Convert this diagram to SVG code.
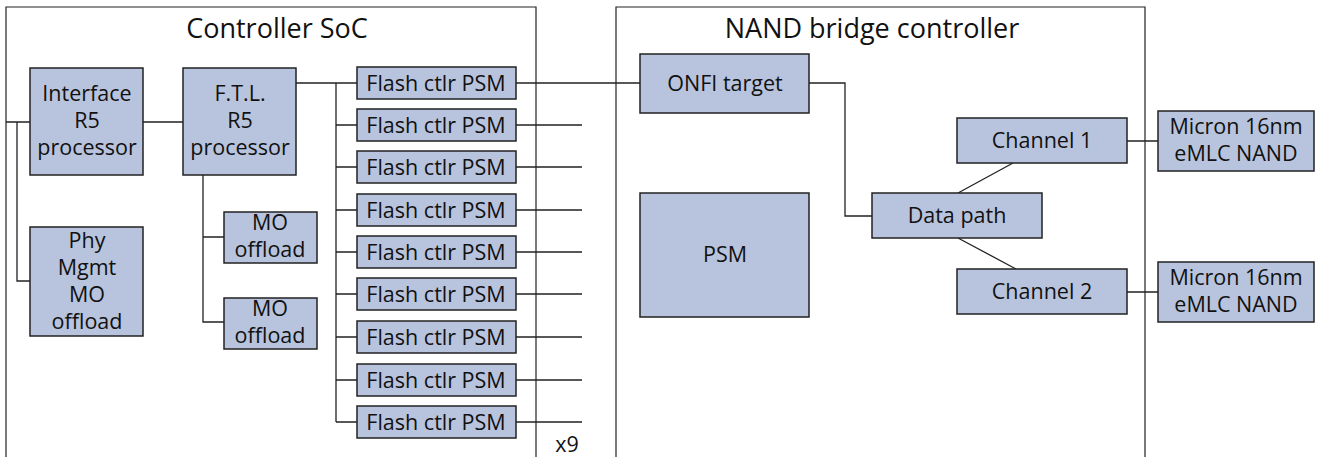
<svg xmlns="http://www.w3.org/2000/svg" width="1317" height="457" viewBox="0 0 1317 457">
<style>
.frame{fill:none;stroke:#222;stroke-width:1.2}
.box{fill:#b8c4dd;stroke:#222;stroke-width:1.5}
.t{font-family:"Open Sans","Noto Sans",sans-serif;font-size:21.5px;fill:#111;text-anchor:middle}
.title{font-family:"Open Sans","Noto Sans",sans-serif;font-size:27px;fill:#111;text-anchor:middle}
.c{fill:none;stroke:#222;stroke-width:1.3}
</style>
<rect width="1317" height="457" fill="#fff"/>
<g id="frame-soc"><path class="frame" d="M6,460 V7 H536 V460"/><text class="title" x="277" y="38">Controller SoC</text><text class="t" x="567" y="452">x9</text></g>
<g id="frame-bridge"><path class="frame" d="M616,460 V7 H1145 V460"/><text class="title" x="872" y="38">NAND bridge controller</text></g>
<g id="connectors">
<path class="c" d="M6,122 H30 M17,122 V281 H30 M143,122 H183 M203,175 V322 H224 M203,237 H224"/>
<path class="c" d="M296,83 H357 M336,83 V422"/>
<path class="c" d="M336,125 H357 M336,167 H357 M336,210 H357 M336,252 H357 M336,294 H357 M336,337 H357 M336,380 H357 M336,422 H357"/>
<path class="c" d="M516,83 H640 M516,125 H582 M516,167 H582 M516,210 H582 M516,252 H582 M516,294 H582 M516,337 H582 M516,380 H582 M516,422 H582"/>
<path class="c" d="M809,83 H845 V216 H872 M958,193 L1013,163 M958,238 L1016,269 M1127,141 H1158 M1127,292 H1158"/>
</g>
<g id="interface"><rect class="box" x="30" y="68" width="113" height="107"/><text class="t" x="87" y="101">Interface</text><text class="t" x="87" y="128">R5</text><text class="t" x="87" y="155">processor</text></g>
<g id="ftl"><rect class="box" x="183" y="68" width="113" height="107"/><text class="t" x="240" y="101">F.T.L.</text><text class="t" x="240" y="128">R5</text><text class="t" x="240" y="155">processor</text></g>
<g id="phy"><rect class="box" x="30" y="227" width="113" height="109"/><text class="t" x="87" y="248">Phy</text><text class="t" x="87" y="275">Mgmt</text><text class="t" x="87" y="302">MO</text><text class="t" x="87" y="329">offload</text></g>
<g id="mo1"><rect class="box" x="224" y="212" width="93" height="51"/><text class="t" x="270" y="230">MO</text><text class="t" x="270" y="257">offload</text></g>
<g id="mo2"><rect class="box" x="224" y="298" width="93" height="51"/><text class="t" x="270" y="316">MO</text><text class="t" x="270" y="343">offload</text></g>
<g id="fc1"><rect class="box" x="357" y="67" width="159" height="32"/><text class="t" x="436" y="91">Flash ctlr PSM</text></g>
<g id="fc2"><rect class="box" x="357" y="109" width="159" height="32"/><text class="t" x="436" y="133">Flash ctlr PSM</text></g>
<g id="fc3"><rect class="box" x="357" y="151" width="159" height="32"/><text class="t" x="436" y="175">Flash ctlr PSM</text></g>
<g id="fc4"><rect class="box" x="357" y="194" width="159" height="32"/><text class="t" x="436" y="218">Flash ctlr PSM</text></g>
<g id="fc5"><rect class="box" x="357" y="236" width="159" height="32"/><text class="t" x="436" y="260">Flash ctlr PSM</text></g>
<g id="fc6"><rect class="box" x="357" y="278" width="159" height="32"/><text class="t" x="436" y="302">Flash ctlr PSM</text></g>
<g id="fc7"><rect class="box" x="357" y="321" width="159" height="32"/><text class="t" x="436" y="345">Flash ctlr PSM</text></g>
<g id="fc8"><rect class="box" x="357" y="364" width="159" height="32"/><text class="t" x="436" y="388">Flash ctlr PSM</text></g>
<g id="fc9"><rect class="box" x="357" y="406" width="159" height="32"/><text class="t" x="436" y="430">Flash ctlr PSM</text></g>
<g id="onfi"><rect class="box" x="640" y="54" width="169" height="59"/><text class="t" x="725" y="91">ONFI target</text></g>
<g id="psm"><rect class="box" x="640" y="193" width="169" height="124"/><text class="t" x="725" y="262">PSM</text></g>
<g id="datapath"><rect class="box" x="872" y="193" width="170" height="45"/><text class="t" x="957" y="223">Data path</text></g>
<g id="ch1"><rect class="box" x="957" y="118" width="170" height="45"/><text class="t" x="1042" y="148">Channel 1</text></g>
<g id="ch2"><rect class="box" x="957" y="269" width="170" height="45"/><text class="t" x="1042" y="299">Channel 2</text></g>
<g id="nand1"><rect class="box" x="1158" y="111" width="156" height="60"/><text class="t" x="1236" y="134">Micron 16nm</text><text class="t" x="1236" y="161">eMLC NAND</text></g>
<g id="nand2"><rect class="box" x="1158" y="262" width="156" height="60"/><text class="t" x="1236" y="285">Micron 16nm</text><text class="t" x="1236" y="312">eMLC NAND</text></g>
</svg>
